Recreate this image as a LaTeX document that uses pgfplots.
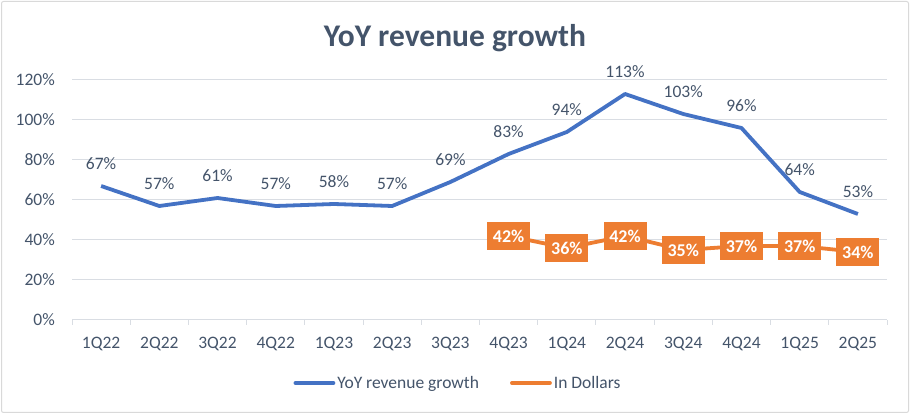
\documentclass[border=0pt]{standalone}
\usepackage{pgfplots}
\pgfplotsset{compat=1.18}
\usepackage{fontspec}
\setmainfont{Carlito}
\definecolor{slate}{HTML}{44546A}
\definecolor{myblue}{HTML}{4472C4}
\definecolor{myorange}{HTML}{ED7D31}
\definecolor{gridc}{HTML}{D9DDE3}
\definecolor{framec}{HTML}{D9D9D9}
\begin{document}
\begin{tikzpicture}[x=1pt,y=1pt]
\useasboundingbox (0,0) rectangle (910,414);
\draw[framec, line width=1pt, rounded corners=2pt] (1.5,1.5) rectangle (908.5,412.5);
\node[anchor=base, text=slate, font=\fontsize{31.5}{36}\selectfont\bfseries] at (455,367) {YoY revenue growth};
\begin{axis}[
  at={(72pt,94pt)}, anchor=south west,
  scale only axis, width=815pt, height=240pt,
  xmin=-0.5, xmax=13.5, ymin=0, ymax=120,
  clip=false,
  xtick={0,...,13},
  xticklabels={1Q22,2Q22,3Q22,4Q22,1Q23,2Q23,3Q23,4Q23,1Q24,2Q24,3Q24,4Q24,1Q25,2Q25},
  minor xtick={-0.5,0.5,1.5,2.5,3.5,4.5,5.5,6.5,7.5,8.5,9.5,10.5,11.5,12.5,13.5},
  ytick={0,20,40,60,80,100,120},
  yticklabel={\pgfmathprintnumber{\tick}\%},
  /pgf/number format/assume math mode=true,
  ymajorgrids, grid style={gridc, line width=1pt},
  axis x line*=bottom, axis y line*=left,
  x axis line style={gridc, line width=1pt, -},
  y axis line style={draw=none},
  major tick length=0pt, minor tick length=5pt,
  tick align=outside,
  minor tick style={gridc, line width=1pt},
  tick label style={font=\fontsize{17.5}{20}\selectfont, text=slate},
  yticklabel style={inner sep=0pt, anchor=east, xshift=-17pt},
  xticklabel style={inner sep=0pt, anchor=north, yshift=-17pt},
  legend columns=2,
  legend style={draw=none, at={(0.4736,-0.2625)}, anchor=center,
    font=\fontsize{17.5}{20}\selectfont, text=slate, inner sep=0pt,
    /tikz/every even column/.append style={column sep=29pt}},
  legend image code/.code={\draw[#1, line width=3.8pt, line cap=round] (2pt,0pt) -- (40pt,0pt);},
]
\addplot[myblue, line width=3.8pt, line join=round, mark=none,
  nodes near coords={\pgfmathprintnumber{\pgfplotspointmeta}\%},
  every node near coord/.append style={anchor=center, yshift=22pt, text=slate,
    font=\fontsize{17.5}{20}\selectfont}]
  coordinates {(0,67) (1,57) (2,61) (3,57) (4,58) (5,57) (6,69) (7,83) (8,94) (9,113) (10,103) (11,96) (12,64) (13,53)};
\addlegendentry{YoY revenue growth}
\addplot[myorange, line width=3.8pt, line join=round, mark=none,
  nodes near coords={\pgfmathprintnumber{\pgfplotspointmeta}\%},
  every node near coord/.append style={anchor=center, fill=myorange, text=white,
    font=\fontsize{18}{20}\selectfont\bfseries, minimum width=43pt, minimum height=28pt, inner sep=0pt}]
  coordinates {(7,42) (8,36) (9,42) (10,35) (11,37) (12,37) (13,34)};
\addlegendentry{In Dollars}
\end{axis}
\end{tikzpicture}
\end{document}
